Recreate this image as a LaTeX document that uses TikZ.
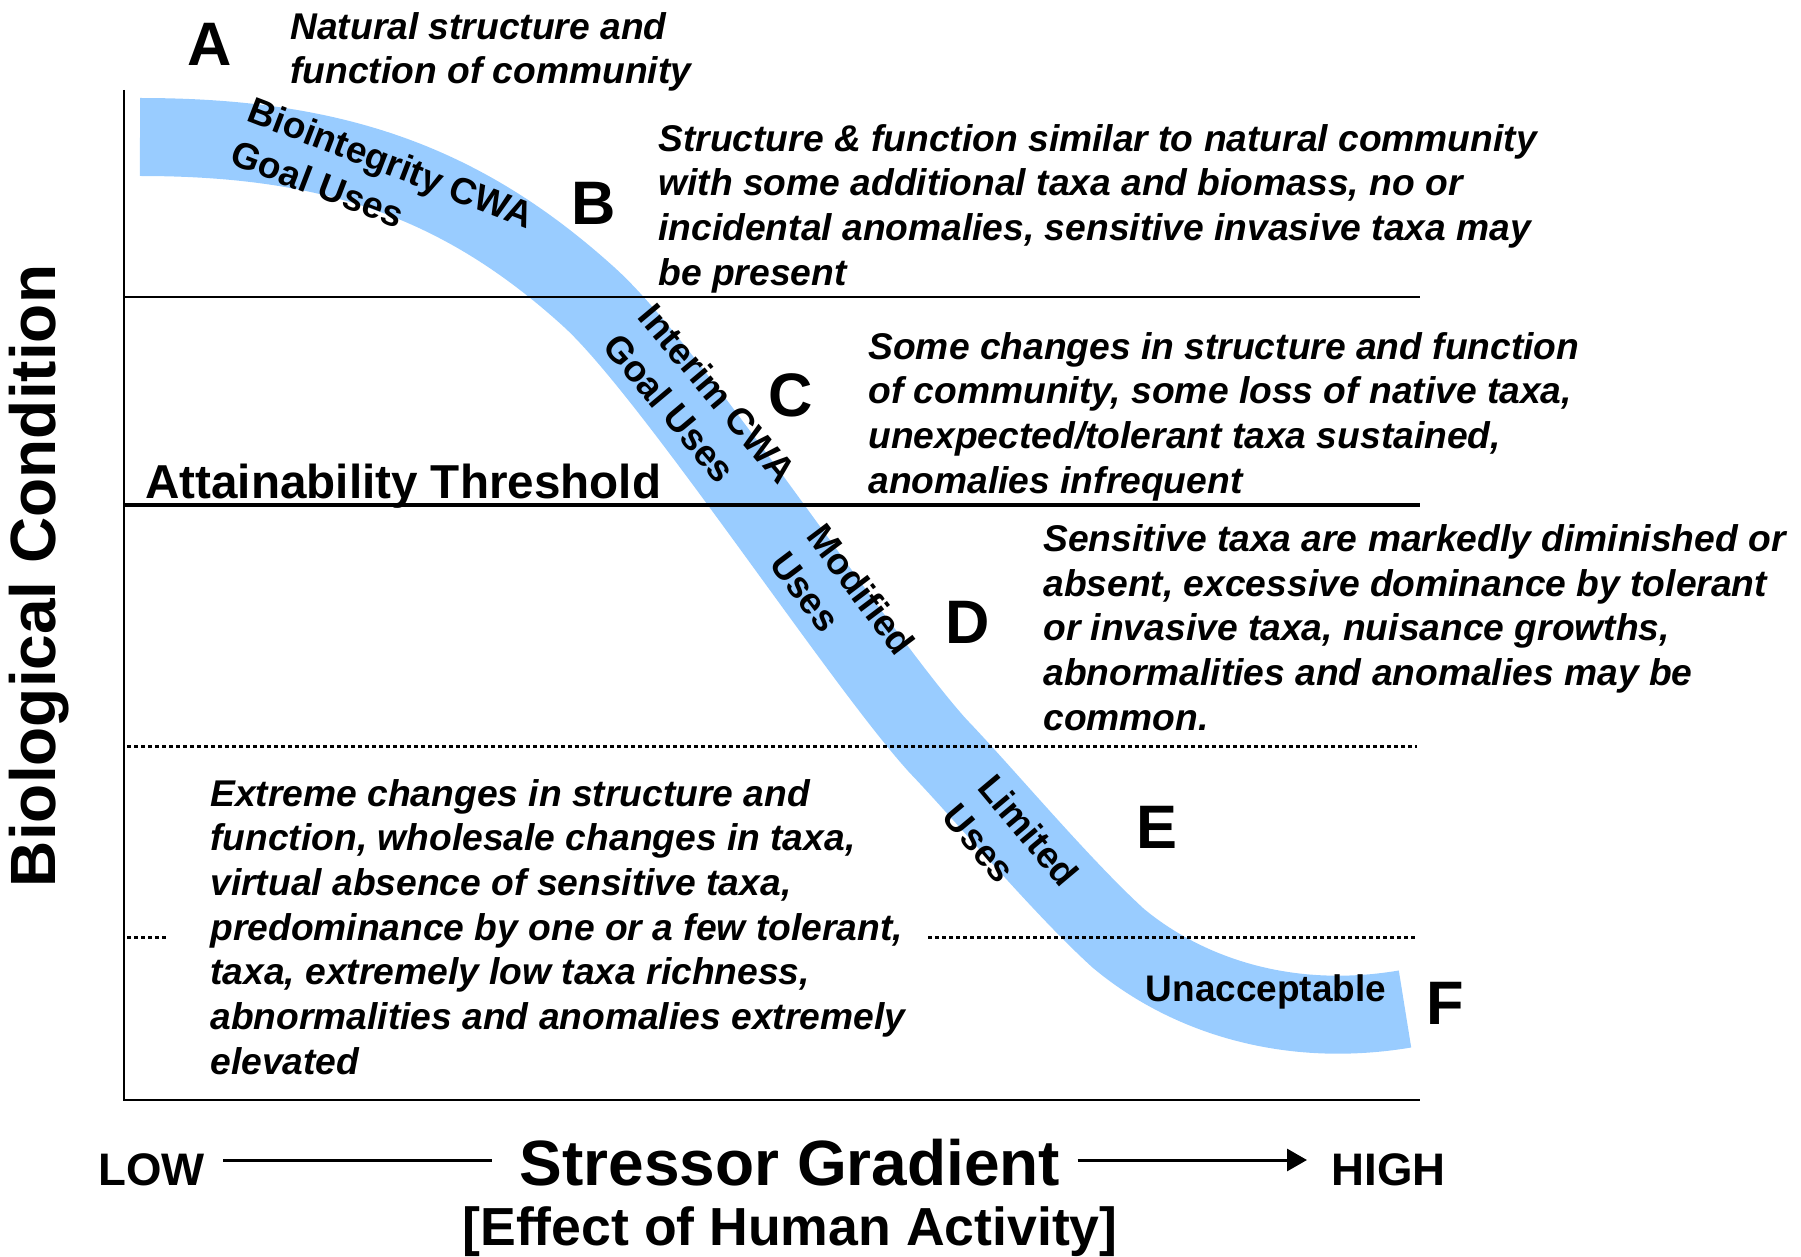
\documentclass[tikz,border=0pt]{standalone}
\usepackage{fontspec}
\setmainfont{Liberation Sans}
\usetikzlibrary{arrows.meta}
\definecolor{bandblue}{RGB}{153,204,255}

\begin{document}
\begin{tikzpicture}[x = 0.5pt, y = -0.5pt,
    tier/.style = {inner sep = 0, font = \bfseries\fontsize{30.7}{36}\selectfont},
    desc/.style = {anchor = west, align = left, inner sep = 0,
        font = \bfseries\itshape\fontsize{18.6}{22.35}\selectfont},
    uses/.style = {align = left, inner sep = 0, font = \bfseries\fontsize{18.5}{23}\selectfont},
    rule/.style = {line width = 1pt},
    dotline/.style = {line width = 1.5pt, dash pattern = on 1.75pt off 1.75pt},
    axislbl/.style = {inner sep = 0, font = \bfseries\fontsize{22.8}{26}\selectfont},
    gradline/.style = {line width = 1.5pt}]
    \useasboundingbox (0,0) rectangle (1801,1257);

    % the blue band
    \draw [bandblue, line width = 39pt] (140,137) .. controls (330,137) and (460,180) .. (589,297)
        .. controls (670,370) and (860,660) .. (938,746)
        .. controls (985,795) and (1060,885) .. (1118,938)
        .. controls (1180,990) and (1280,1030) .. (1405,1009);

    % axes
    \draw [line width = 1.2pt] (124,90) -- (124,1100) -- (1420,1100);

    % level lines
    \draw [rule] (124,297) -- (1420,297);
    \draw [rule, line width = 1.6pt] (124,505) -- (1420,505);
    \draw [dotline] (127,746) -- (1417,746);
    \draw [dotline] (127,937) -- (168,937);
    \draw [dotline] (928,937) -- (1417,937);

    % tiers
    \node [tier] (tA) at (210,44) {A};
    \node [tier] (tB) at (594,203) {B};
    \node [tier] (tC) at (791,395) {C};
    \node [tier] (tD) at (968,622) {D};
    \node [tier] (tE) at (1157,827) {E};
    \node [tier] (tF) at (1445,1003) {F};

    \node [desc] (descA) at (290,52) {Natural structure and\\function of community};
    \node [desc] (descB) at (658,208.5) {Structure \& function similar to natural community\\
        with some additional taxa and biomass, no or\\
        incidental anomalies, sensitive invasive taxa may\\be present};
    \node [desc] (descC) at (868,416.5) {Some changes in structure and function\\
        of community, some loss of native taxa,\\
        unexpected/tolerant taxa sustained,\\anomalies infrequent};
    \node [desc] (descD) at (1043,627.5) {Sensitive taxa are markedly diminished or\\
        absent, excessive dominance by tolerant\\
        or invasive taxa, nuisance growths,\\
        abnormalities and anomalies may be\\common.};
    \node [desc] (descF) at (210,927) {Extreme changes in structure and\\
        function, wholesale changes in taxa,\\
        virtual absence of sensitive taxa,\\
        predominance by one or a few tolerant,\\
        taxa, extremely low taxa richness,\\
        abnormalities and anomalies extremely\\elevated};

    % uses along the band
    \node [uses, rotate = -21] (bio) at (383,184) {Biointegrity CWA\\Goal Uses};
    \node [uses, rotate = -50] (interim) at (700,408) {Interim CWA\\Goal Uses};
    \node [uses, rotate = -53] (modified) at (843,603) {Modified\\Uses};
    \node [uses, rotate = -50] (limited) at (1011,845) {Limited\\Uses};
    \node [uses] (unacc) at (1266,992) {Unacceptable};

    \node [anchor = base west, inner sep = 0, font = \bfseries\fontsize{23.8}{28}\selectfont]
        (thresh) at (145,498) {Attainability Threshold};
    \node [rotate = 90, inner sep = 0, font = \bfseries\fontsize{32}{36}\selectfont]
        (bio cond) at (39,576) {Biological Condition};

    % stressor gradient
    \node [axislbl, anchor = base west] (low) at (98,1185) {LOW};
    \node [anchor = base, inner sep = 0, font = \bfseries\fontsize{32}{36}\selectfont]
        (grad) at (790,1185) {Stressor Gradient};
    \node [axislbl, anchor = base west] (high) at (1331,1185) {HIGH};
    \node [anchor = base, inner sep = 0, font = \bfseries\fontsize{26.8}{30}\selectfont]
        (effect) at (790,1245) {[Effect of Human Activity]};
    \draw [gradline, shorten <= 9pt, shorten >= 13.5pt]
        ([yshift = 12.5pt]low.base east) -- ([yshift = 12.5pt]grad.base west);
    \draw [gradline, -{Triangle[length = 10pt, width = 11pt]}, shorten <= 8.5pt, shorten >= 12pt]
        ([yshift = 12.5pt]grad.base east) -- ([yshift = 12.5pt]high.base west);
\end{tikzpicture}
\end{document}
